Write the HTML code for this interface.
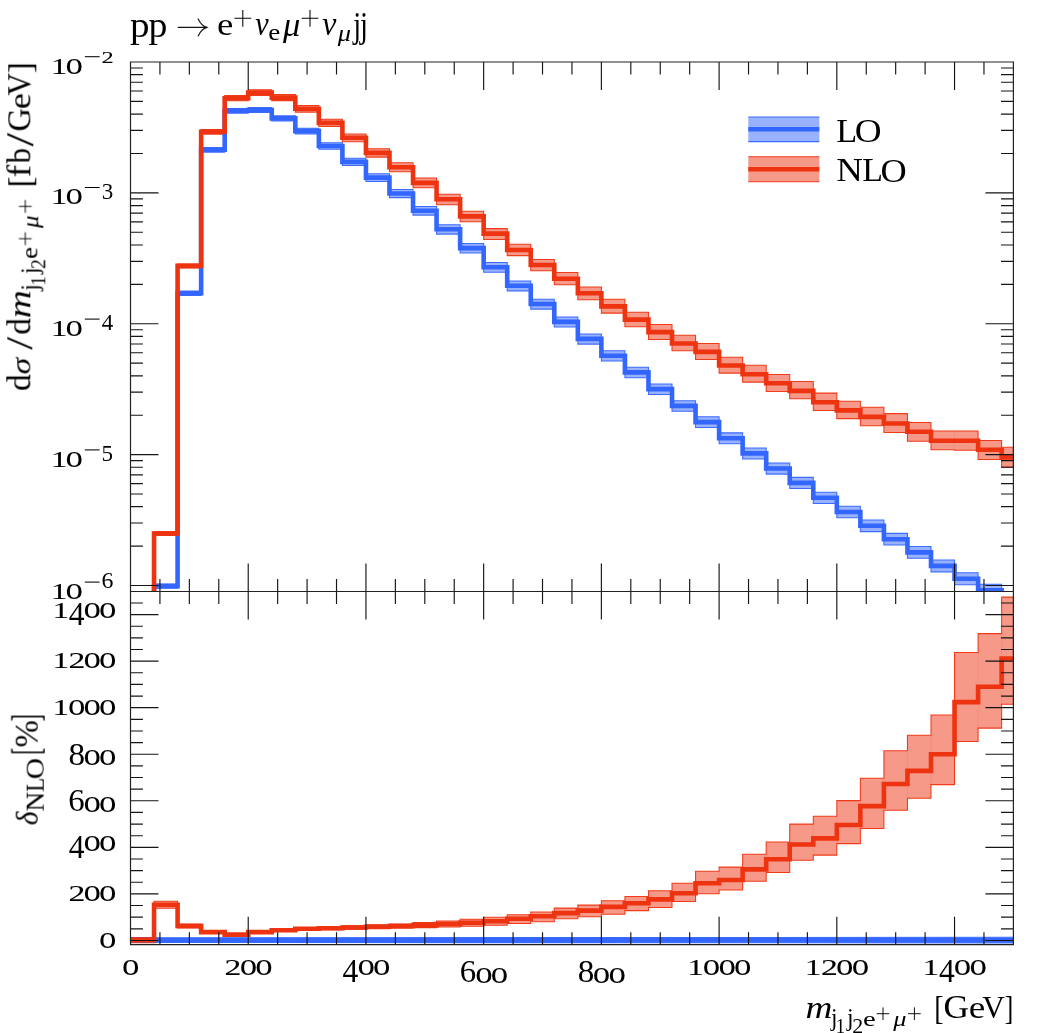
<!DOCTYPE html>
<html><head><meta charset="utf-8"><title>pp to e+ nu mu+ nu jj</title>
<style>html,body{margin:0;padding:0;background:#fff}svg{display:block}text{font-family:"Liberation Serif",serif;font-size:100px;fill:#000}</style></head><body>
<svg width="1046" height="1033" viewBox="0 0 1046 1033">
<rect width="1046" height="1033" fill="#fff"/>
<defs><clipPath id="cu"><rect x="130.5" y="62" width="882.9" height="529.5"/></clipPath>
<clipPath id="cl"><rect x="130.5" y="591.5" width="882.9" height="353.2"/></clipPath></defs>
<g clip-path="url(#cu)">
<path d="M154.04 584.1H177.59V291H201.13V147.5H224.68V108.4H248.22V107.5H271.76V115.8H295.31V128.2H318.85V142.7H342.4V158.3H365.94V173.7H389.48V189.4H413.03V206.5H436.57V224.7H460.12V243.53H483.66V262.56H507.2V281.09H530.75V299.22H554.29V317.05H577.84V333.98H601.38V350.81H624.92V367.34H648.47V383.97H672.01V400.7H695.56V416.83H719.1V432.86H742.64V447.99H766.19V463.02H789.73V477.35H813.28V492.18H836.82V506.31H860.36V520.04H883.91V533.37H907.45V546.5H931V559.93H954.54V572.66H978.08V584.19H1001.63V596.82H1013.4V609.1H1001.63V596.35H978.08V584.7H954.54V571.85H931V558.3H907.45V545.05H883.91V531.6H860.36V517.75H836.82V503.5H813.28V488.55H789.73V474.1H766.19V458.95H742.64V443.7H719.1V427.55H695.56V411.3H672.01V394.45H648.47V377.7H624.92V361.05H601.38V344.1H577.84V327.05H554.29V309.1H530.75V290.85H507.2V272.2H483.66V253.05H460.12V234.1H436.57V215.1H413.03V197.6H389.48V181.5H365.94V165.5H342.4V149.3H318.85V134H295.31V121H271.76V112.5H248.22V113.2H224.68V152.1H201.13V295.4H177.59V588.1H154.04Z" fill="#3366FF" stroke="#3366FF" fill-opacity="0.5" stroke-width="1.05" stroke-opacity="0.95" stroke-linejoin="miter"/>
<path d="M154.04 531.5H177.59V263.9H201.13V129.5H224.68V95.6H248.22V89.8H271.76V94.6H295.31V105.5H318.85V119.3H342.4V133.9H365.94V148.7H389.48V162.8H413.03V178H436.57V194.2H460.12V211.3H483.66V228.6H507.2V244.3H530.75V259.4H554.29V272.5H577.84V286.9H601.38V299.2H624.92V312.2H648.47V324.5H672.01V335.3H695.56V343.5H719.1V357.3H742.64V365.3H766.19V374.4H789.73V381.4H813.28V393.1H836.82V401.3H860.36V407.2H883.91V413.6H907.45V422.5H931V431H954.54V431H978.08V440.4H1001.63V447.3H1013.4V467.1H1001.63V459.5H978.08V450.2H954.54V449.8H931V441.3H907.45V432.4H883.91V425.7H860.36V418.6H836.82V410.4H813.28V398.8H789.73V391.4H766.19V382.1H742.64V373.1H719.1V359.5H695.56V350.8H672.01V339.4H648.47V326.7H624.92V313.1H601.38V299.8H577.84V284.7H554.29V270.7H530.75V255.6H507.2V239.5H483.66V221.7H460.12V204.7H436.57V187.8H413.03V171.8H389.48V157.1H365.94V141.7H342.4V126.5H318.85V112.1H295.31V100.6H271.76V95.4H248.22V100.8H224.68V134.1H201.13V267.9H177.59V535.5H154.04Z" fill="#EE3311" stroke="#EE3311" fill-opacity="0.5" stroke-width="1.05" stroke-opacity="0.95" stroke-linejoin="miter"/>
<path d="M648.47 324.5V326.7M672.01 335.3V339.4M695.56 343.5V350.8M719.1 357.3V359.5M742.64 365.3V373.1M766.19 374.4V382.1M789.73 381.4V391.4M813.28 393.1V398.8M836.82 401.3V410.4M860.36 407.2V418.6M883.91 413.6V425.7M907.45 422.5V432.4M931 431V441.3M954.54 431V449.8M978.08 440.4V450.2M1001.63 447.3V459.5" stroke="#EE3311" stroke-width="0.8" stroke-opacity="0.12" fill="none"/>
<path d="M248.22 108.4V112.5" stroke="#3366FF" stroke-width="0.8" stroke-opacity="0.12" fill="none"/>
<path d="M154.04 700 V586.1H177.59V293.2H201.13V149.8H224.68V110.8H248.22V110H271.76V118.4H295.31V131.1H318.85V146H342.4V161.9H365.94V177.6H389.48V193.5H413.03V210.8H436.57V229.2H460.12V248.1H483.66V267.2H507.2V285.8H530.75V304H554.29V321.9H577.84V338.9H601.38V355.8H624.92V372.4H648.47V389.1H672.01V405.9H695.56V422.1H719.1V438.2H742.64V453.4H766.19V468.5H789.73V482.9H813.28V497.8H836.82V512H860.36V525.8H883.91V539.2H907.45V552.4H931V565.9H954.54V578.7H978.08V590.3H1001.63V603H1013.4" fill="none" stroke="#3366FF" stroke-width="4.6" stroke-linejoin="miter"/>
<path d="M154.04 700 V533.5H177.59V265.9H201.13V131.8H224.68V98.2H248.22V92.6H271.76V97.6H295.31V108.8H318.85V122.9H342.4V137.8H365.94V152.9H389.48V167.3H413.03V182.9H436.57V199.3H460.12V216.4H483.66V233.6H507.2V250H530.75V265H554.29V278.8H577.84V293.3H601.38V306.4H624.92V319.6H648.47V332.1H672.01V343.5H695.56V351.9H719.1V365.5H742.64V374.3H766.19V383.3H789.73V390.9H813.28V402.2H836.82V410.4H860.36V416.9H883.91V423.5H907.45V431.8H931V440.8H954.54V440.8H978.08V449.8H1001.63V457.4H1013.4" fill="none" stroke="#EE3311" stroke-width="4.6" stroke-linejoin="miter"/>
</g>
<g clip-path="url(#cl)">
<path d="M125.5 937.9L1018.4 937.3V942.9L125.5 942.4Z" fill="#3366FF" stroke="#3366FF" fill-opacity="0.5" stroke-width="1.05" stroke-opacity="0.95" stroke-linejoin="miter"/>
<path d="M130.5 937.6H154.04V901.2H177.59V924H201.13V931.1H224.68V933.8H248.22V931.1H271.76V929H295.31V927.4H318.85V926.7H342.4V925.8H365.94V924.8H389.48V923.9H413.03V922.6H436.57V921H460.12V919.2H483.66V917.2H507.2V914.8H530.75V911.9H554.29V908.1H577.84V905.1H601.38V900.7H624.92V896.4H648.47V890.7H672.01V883.3H695.56V871.3H719.1V867.1H742.64V854.2H766.19V842H789.73V824.1H813.28V816.3H836.82V800.6H860.36V778.3H883.91V750.8H907.45V735.2H931V714.9H954.54V652.5H978.08V633.6H1001.63V597.1H1013.4V704.3H1001.63V728.1H978.08V741.5H954.54V784.6H931V798.3H907.45V810.2H883.91V828.4H860.36V843.6H836.82V855.1H813.28V860.3H789.73V872.4H766.19V881.2H742.64V890H719.1V893.7H695.56V901.4H672.01V907.4H648.47V910.6H624.92V914.3H601.38V916.8H577.84V918.8H554.29V921.8H530.75V923.5H507.2V925.2H483.66V926.2H460.12V927H436.57V927.6H413.03V928.1H389.48V928.6H365.94V929.2H342.4V929.7H318.85V930.2H295.31V931.4H271.76V933.1H248.22V935.4H224.68V933.1H201.13V928H177.59V908.3H154.04V942.6H130.5Z" fill="#EE3311" stroke="#EE3311" fill-opacity="0.5" stroke-width="1.05" stroke-opacity="0.95" stroke-linejoin="miter"/>
<path d="M295.31 929V930.2M318.85 927.4V929.7M342.4 926.7V929.2M365.94 925.8V928.6M389.48 924.8V928.1M413.03 923.9V927.6M436.57 922.6V927M460.12 921V926.2M483.66 919.2V925.2M507.2 917.2V923.5M530.75 914.8V921.8M554.29 911.9V918.8M577.84 908.1V916.8M601.38 905.1V914.3M624.92 900.7V910.6M648.47 896.4V907.4M672.01 890.7V901.4M695.56 883.3V893.7M719.1 871.3V890M742.64 867.1V881.2M766.19 854.2V872.4M789.73 842V860.3M813.28 824.1V855.1M836.82 816.3V843.6M860.36 800.6V828.4M883.91 778.3V810.2M907.45 750.8V798.3M931 735.2V784.6M954.54 714.9V741.5M978.08 652.5V728.1M1001.63 633.6V704.3" stroke="#EE3311" stroke-width="0.8" stroke-opacity="0.12" fill="none"/>
<path d="M130.5 940.1H1013.4" fill="none" stroke="#3366FF" stroke-width="4.6"/>
<path d="M130.5 940.1H154.04V904.8H177.59V926H201.13V932.1H224.68V934.6H248.22V932.1H271.76V930.2H295.31V928.8H318.85V928.2H342.4V927.5H365.94V926.7H389.48V926H413.03V925.1H436.57V924H460.12V922.7H483.66V921.2H507.2V918.8H530.75V916.3H554.29V913.1H577.84V910.6H601.38V906.9H624.92V903.2H648.47V899.4H672.01V893.2H695.56V883.3H719.1V880H742.64V869.4H766.19V859.3H789.73V844.5H813.28V838.4H836.82V825H860.36V806.1H883.91V784H907.45V770.9H931V754.3H954.54V702.1H978.08V686.8H1001.63V658.5H1013.4" fill="none" stroke="#EE3311" stroke-width="4.6" stroke-linejoin="miter"/>
</g>
<rect x="748.3" y="117" width="71" height="24.6" fill="#3366FF" fill-opacity="0.5"/>
<path d="M748.3 117H819.3M748.3 141.6H819.3" stroke="#3366FF" stroke-width="1.05" stroke-opacity="0.95" fill="none"/>
<path d="M748.3 129.3H819.3" stroke="#3366FF" stroke-width="4.6"/>
<rect x="748.3" y="156.8" width="71" height="24.9" fill="#EE3311" fill-opacity="0.5"/>
<path d="M748.3 156.8H819.3M748.3 181.7H819.3" stroke="#EE3311" stroke-width="1.05" stroke-opacity="0.95" fill="none"/>
<path d="M748.3 169.25H819.3" stroke="#EE3311" stroke-width="4.6"/>
<path d="M159.93 62v12.4M159.93 579.1v24.8M159.93 944.7v-12.4M189.36 62v12.4M189.36 579.1v24.8M189.36 944.7v-12.4M218.79 62v12.4M218.79 579.1v24.8M218.79 944.7v-12.4M248.22 62v28M248.22 563.5v56M248.22 944.7v-28M277.65 62v12.4M277.65 579.1v24.8M277.65 944.7v-12.4M307.08 62v12.4M307.08 579.1v24.8M307.08 944.7v-12.4M336.51 62v12.4M336.51 579.1v24.8M336.51 944.7v-12.4M365.94 62v28M365.94 563.5v56M365.94 944.7v-28M395.37 62v12.4M395.37 579.1v24.8M395.37 944.7v-12.4M424.8 62v12.4M424.8 579.1v24.8M424.8 944.7v-12.4M454.23 62v12.4M454.23 579.1v24.8M454.23 944.7v-12.4M483.66 62v28M483.66 563.5v56M483.66 944.7v-28M513.09 62v12.4M513.09 579.1v24.8M513.09 944.7v-12.4M542.52 62v12.4M542.52 579.1v24.8M542.52 944.7v-12.4M571.95 62v12.4M571.95 579.1v24.8M571.95 944.7v-12.4M601.38 62v28M601.38 563.5v56M601.38 944.7v-28M630.81 62v12.4M630.81 579.1v24.8M630.81 944.7v-12.4M660.24 62v12.4M660.24 579.1v24.8M660.24 944.7v-12.4M689.67 62v12.4M689.67 579.1v24.8M689.67 944.7v-12.4M719.1 62v28M719.1 563.5v56M719.1 944.7v-28M748.53 62v12.4M748.53 579.1v24.8M748.53 944.7v-12.4M777.96 62v12.4M777.96 579.1v24.8M777.96 944.7v-12.4M807.39 62v12.4M807.39 579.1v24.8M807.39 944.7v-12.4M836.82 62v28M836.82 563.5v56M836.82 944.7v-28M866.25 62v12.4M866.25 579.1v24.8M866.25 944.7v-12.4M895.68 62v12.4M895.68 579.1v24.8M895.68 944.7v-12.4M925.11 62v12.4M925.11 579.1v24.8M925.11 944.7v-12.4M954.54 62v28M954.54 563.5v56M954.54 944.7v-28M983.97 62v12.4M983.97 579.1v24.8M983.97 944.7v-12.4M130.5 585.48h28M1013.4 585.48h-28M130.5 546.08h12.4M1013.4 546.08h-12.4M130.5 523.04h12.4M1013.4 523.04h-12.4M130.5 506.69h12.4M1013.4 506.69h-12.4M130.5 494.01h12.4M1013.4 494.01h-12.4M130.5 483.64h12.4M1013.4 483.64h-12.4M130.5 474.88h12.4M1013.4 474.88h-12.4M130.5 467.29h12.4M1013.4 467.29h-12.4M130.5 460.6h12.4M1013.4 460.6h-12.4M130.5 454.61h28M1013.4 454.61h-28M130.5 415.21h12.4M1013.4 415.21h-12.4M130.5 392.17h12.4M1013.4 392.17h-12.4M130.5 375.82h12.4M1013.4 375.82h-12.4M130.5 363.14h12.4M1013.4 363.14h-12.4M130.5 352.77h12.4M1013.4 352.77h-12.4M130.5 344.01h12.4M1013.4 344.01h-12.4M130.5 336.42h12.4M1013.4 336.42h-12.4M130.5 329.73h12.4M1013.4 329.73h-12.4M130.5 323.74h28M1013.4 323.74h-28M130.5 284.34h12.4M1013.4 284.34h-12.4M130.5 261.3h12.4M1013.4 261.3h-12.4M130.5 244.95h12.4M1013.4 244.95h-12.4M130.5 232.27h12.4M1013.4 232.27h-12.4M130.5 221.9h12.4M1013.4 221.9h-12.4M130.5 213.14h12.4M1013.4 213.14h-12.4M130.5 205.55h12.4M1013.4 205.55h-12.4M130.5 198.86h12.4M1013.4 198.86h-12.4M130.5 192.87h28M1013.4 192.87h-28M130.5 153.47h12.4M1013.4 153.47h-12.4M130.5 130.43h12.4M1013.4 130.43h-12.4M130.5 114.08h12.4M1013.4 114.08h-12.4M130.5 101.4h12.4M1013.4 101.4h-12.4M130.5 91.03h12.4M1013.4 91.03h-12.4M130.5 82.27h12.4M1013.4 82.27h-12.4M130.5 74.68h12.4M1013.4 74.68h-12.4M130.5 67.99h12.4M1013.4 67.99h-12.4M130.5 940.45h28M1013.4 940.45h-28M130.5 928.81h12.4M1013.4 928.81h-12.4M130.5 917.17h12.4M1013.4 917.17h-12.4M130.5 905.54h12.4M1013.4 905.54h-12.4M130.5 893.9h28M1013.4 893.9h-28M130.5 882.26h12.4M1013.4 882.26h-12.4M130.5 870.62h12.4M1013.4 870.62h-12.4M130.5 858.98h12.4M1013.4 858.98h-12.4M130.5 847.35h28M1013.4 847.35h-28M130.5 835.71h12.4M1013.4 835.71h-12.4M130.5 824.07h12.4M1013.4 824.07h-12.4M130.5 812.43h12.4M1013.4 812.43h-12.4M130.5 800.79h28M1013.4 800.79h-28M130.5 789.16h12.4M1013.4 789.16h-12.4M130.5 777.52h12.4M1013.4 777.52h-12.4M130.5 765.88h12.4M1013.4 765.88h-12.4M130.5 754.24h28M1013.4 754.24h-28M130.5 742.6h12.4M1013.4 742.6h-12.4M130.5 730.97h12.4M1013.4 730.97h-12.4M130.5 719.33h12.4M1013.4 719.33h-12.4M130.5 707.69h28M1013.4 707.69h-28M130.5 696.05h12.4M1013.4 696.05h-12.4M130.5 684.41h12.4M1013.4 684.41h-12.4M130.5 672.78h12.4M1013.4 672.78h-12.4M130.5 661.14h28M1013.4 661.14h-28M130.5 649.5h12.4M1013.4 649.5h-12.4M130.5 637.86h12.4M1013.4 637.86h-12.4M130.5 626.22h12.4M1013.4 626.22h-12.4M130.5 614.59h28M1013.4 614.59h-28M130.5 602.95h12.4M1013.4 602.95h-12.4" stroke="#151515" stroke-width="1.15" fill="none"/>
<path d="M130.5 62H1013.4V944.7H130.5ZM130.5 591.5H1013.4" stroke="#222" stroke-width="1.2" fill="none"/>
<g opacity="0.999">
<text transform="matrix(0.3489 0 0 0.3101 121.98 975.31)">o</text>
<text transform="matrix(0.3370 0 0 0.2205 224.58 975.3)" stroke="#000" stroke-width="0.45">2</text>
<text transform="matrix(0.3489 0 0 0.3101 239.7 975.31)">o</text>
<text transform="matrix(0.3489 0 0 0.3101 255.3 975.31)">o</text>
<text transform="matrix(0.3161 0 0 0.3299 342.57 982.42)">4</text>
<text transform="matrix(0.3489 0 0 0.3101 357.42 975.31)">o</text>
<text transform="matrix(0.3489 0 0 0.3101 373.02 975.31)">o</text>
<text transform="matrix(0.3286 0 0 0.3251 459.83 982.22)">6</text>
<text transform="matrix(0.3489 0 0 0.3101 475.14 982.55)">o</text>
<text transform="matrix(0.3489 0 0 0.3101 490.74 982.55)">o</text>
<text transform="matrix(0.3313 0 0 0.3236 577.7 982.22)">8</text>
<text transform="matrix(0.3489 0 0 0.3101 592.86 982.55)">o</text>
<text transform="matrix(0.3489 0 0 0.3101 608.46 982.55)">o</text>
<text transform="matrix(0.3323 0 0 0.2212 687.13 975.3)" stroke="#000" stroke-width="0.45">1</text>
<text transform="matrix(0.3489 0 0 0.3101 702.78 975.31)">o</text>
<text transform="matrix(0.3489 0 0 0.3101 718.38 975.31)">o</text>
<text transform="matrix(0.3489 0 0 0.3101 733.98 975.31)">o</text>
<text transform="matrix(0.3323 0 0 0.2212 804.85 975.3)" stroke="#000" stroke-width="0.45">1</text>
<text transform="matrix(0.3370 0 0 0.2205 820.98 975.3)" stroke="#000" stroke-width="0.45">2</text>
<text transform="matrix(0.3489 0 0 0.3101 836.1 975.31)">o</text>
<text transform="matrix(0.3489 0 0 0.3101 851.7 975.31)">o</text>
<text transform="matrix(0.3323 0 0 0.2212 922.57 975.3)" stroke="#000" stroke-width="0.45">1</text>
<text transform="matrix(0.3161 0 0 0.3299 938.97 982.42)">4</text>
<text transform="matrix(0.3489 0 0 0.3101 953.82 975.31)">o</text>
<text transform="matrix(0.3489 0 0 0.3101 969.42 975.31)">o</text>
<text transform="matrix(0.3489 0 0 0.3101 99.1 947.76)">o</text>
<text transform="matrix(0.3370 0 0 0.2205 68.49 901.2)" stroke="#000" stroke-width="0.45">2</text>
<text transform="matrix(0.3489 0 0 0.3101 83.55 901.21)">o</text>
<text transform="matrix(0.3489 0 0 0.3101 99.1 901.21)">o</text>
<text transform="matrix(0.3161 0 0 0.3299 68.76 858.2)">4</text>
<text transform="matrix(0.3489 0 0 0.3101 83.55 851.1)">o</text>
<text transform="matrix(0.3489 0 0 0.3101 99.1 851.1)">o</text>
<text transform="matrix(0.3286 0 0 0.3251 68.29 811.4)">6</text>
<text transform="matrix(0.3489 0 0 0.3101 83.55 811.72)">o</text>
<text transform="matrix(0.3489 0 0 0.3101 99.1 811.72)">o</text>
<text transform="matrix(0.3313 0 0 0.3236 68.44 764.85)">8</text>
<text transform="matrix(0.3489 0 0 0.3101 83.55 765.17)">o</text>
<text transform="matrix(0.3489 0 0 0.3101 99.1 765.17)">o</text>
<text transform="matrix(0.3323 0 0 0.2212 52.4 714.99)" stroke="#000" stroke-width="0.45">1</text>
<text transform="matrix(0.3489 0 0 0.3101 68 715)">o</text>
<text transform="matrix(0.3489 0 0 0.3101 83.55 715)">o</text>
<text transform="matrix(0.3489 0 0 0.3101 99.1 715)">o</text>
<text transform="matrix(0.3323 0 0 0.2212 52.4 668.44)" stroke="#000" stroke-width="0.45">1</text>
<text transform="matrix(0.3370 0 0 0.2205 68.49 668.44)" stroke="#000" stroke-width="0.45">2</text>
<text transform="matrix(0.3489 0 0 0.3101 83.55 668.45)">o</text>
<text transform="matrix(0.3489 0 0 0.3101 99.1 668.45)">o</text>
<text transform="matrix(0.3323 0 0 0.2212 52.4 618.33)" stroke="#000" stroke-width="0.45">1</text>
<text transform="matrix(0.3161 0 0 0.3299 68.76 625.44)">4</text>
<text transform="matrix(0.3489 0 0 0.3101 83.55 618.34)">o</text>
<text transform="matrix(0.3489 0 0 0.3101 99.1 618.34)">o</text>
<text transform="matrix(0.3323 0 0 0.2212 50.73 73.5)" stroke="#000" stroke-width="0.45">1</text>
<text transform="matrix(0.3489 0 0 0.3101 65.38 73.51)">o</text>
<path d="M84.8 56.7H99.6" stroke="#000" stroke-width="1.05" fill="none"/>
<text transform="matrix(0.2445 0 0 0.1600 101.62 62.9)" stroke="#000" stroke-width="0.45">2</text>
<text transform="matrix(0.3323 0 0 0.2212 50.73 204.3)" stroke="#000" stroke-width="0.45">1</text>
<text transform="matrix(0.3489 0 0 0.3101 65.38 204.31)">o</text>
<path d="M84.8 187.5H99.6" stroke="#000" stroke-width="1.05" fill="none"/>
<text transform="matrix(0.2302 0 0 0.2345 101.74 198.63)">3</text>
<text transform="matrix(0.3323 0 0 0.2212 50.73 335.9)" stroke="#000" stroke-width="0.45">1</text>
<text transform="matrix(0.3489 0 0 0.3101 65.38 335.91)">o</text>
<path d="M84.8 319.1H99.6" stroke="#000" stroke-width="1.05" fill="none"/>
<text transform="matrix(0.2294 0 0 0.2394 101.82 330.46)">4</text>
<text transform="matrix(0.3323 0 0 0.2212 50.73 466.7)" stroke="#000" stroke-width="0.45">1</text>
<text transform="matrix(0.3489 0 0 0.3101 65.38 466.71)">o</text>
<path d="M84.8 449.9H99.6" stroke="#000" stroke-width="1.05" fill="none"/>
<text transform="matrix(0.2304 0 0 0.2371 101.62 461.03)">5</text>
<text transform="matrix(0.3323 0 0 0.2212 50.73 598.9)" stroke="#000" stroke-width="0.45">1</text>
<text transform="matrix(0.3489 0 0 0.3101 65.38 598.91)">o</text>
<path d="M84.8 582.1H99.6" stroke="#000" stroke-width="1.05" fill="none"/>
<text transform="matrix(0.2385 0 0 0.2359 101.48 588.07)">6</text>
<text transform="matrix(0.3912 0 0 0.3538 129.97 36.97)">p</text>
<text transform="matrix(0.3777 0 0 0.3538 148.59 36.97)">p</text>
<path d="M178.2 27.4H206.2M198.2 18.9C200.1 23.2 202.8 26 206.9 27.4C202.8 28.8 200.1 31.6 198.2 35.9" stroke="#151515" stroke-width="1.15" fill="none" stroke-linecap="round"/>
<text transform="matrix(0.3675 0 0 0.3223 217.06 35.49)">e</text>
<path d="M234.45 18.3h16.7M242.8 9.95v16.7" stroke="#000" stroke-width="1.05" fill="none"/>
<text transform="matrix(0.3022 0 0 0.3307 255.19 35.48)" font-style="italic">ν</text>
<text transform="matrix(0.2702 0 0 0.2204 268.14 40.28)">e</text>
<text transform="matrix(0.3449 0 0 0.3448 282.93 36.13)" font-style="italic">μ</text>
<path d="M301.65 18.3h16.7M310 9.95v16.7" stroke="#000" stroke-width="1.05" fill="none"/>
<text transform="matrix(0.3185 0 0 0.3307 322.26 35.48)" font-style="italic">ν</text>
<text transform="matrix(0.2640 0 0 0.2393 337.63 40.88)" font-style="italic">μ</text>
<text transform="matrix(0.2809 0 0 0.3486 353.31 37.08)">j</text>
<text transform="matrix(0.2855 0 0 0.3486 360.12 37.08)">j</text>
<text transform="matrix(0.3429 0 0 0.3299 836.31 141.5)">L</text>
<text transform="matrix(0.3718 0 0 0.3393 854.68 141.77)">O</text>
<text transform="matrix(0.3684 0 0 0.3345 836.14 181.2)">N</text>
<text transform="matrix(0.3391 0 0 0.3299 862.32 180.9)">L</text>
<text transform="matrix(0.3624 0 0 0.3438 880.51 181.56)">O</text>
<text transform="matrix(0.3726 0 0 0.3226 805.45 1017.6)" font-style="italic">m</text>
<text transform="matrix(0.2311 0 0 0.2606 831.07 1026.05)">j</text>
<text transform="matrix(0.1875 0 0 0.2015 835.65 1033.3)">1</text>
<text transform="matrix(0.2356 0 0 0.2606 846.98 1026.05)">j</text>
<text transform="matrix(0.2195 0 0 0.2039 852.24 1033.3)">2</text>
<text transform="matrix(0.2864 0 0 0.2121 862.88 1025.79)">e</text>
<path d="M876.7 1013.7h12.6M883 1007.4v12.6" stroke="#000" stroke-width="0.95" fill="none"/>
<text transform="matrix(0.2640 0 0 0.2170 893.23 1025.76)" font-style="italic">μ</text>
<path d="M908.1 1013.7h12.6M914.4 1007.4v12.6" stroke="#000" stroke-width="0.95" fill="none"/>
<text transform="matrix(0.2785 0 0 0.3383 934.33 1018.67)">[</text>
<text transform="matrix(0.3524 0 0 0.3319 943.45 1017.68)">G</text>
<text transform="matrix(0.3729 0 0 0.3181 968.64 1017.59)">e</text>
<text transform="matrix(0.3116 0 0 0.3254 982.35 1017.51)">V</text>
<text transform="matrix(0.2560 0 0 0.3383 1004.78 1018.67)">]</text>
<g transform="translate(30.3 389.7) rotate(-90)">
<text transform="matrix(0.3343 0 0 0.3300 -1.21 0)">d</text>
<text transform="matrix(0.3373 0 0 0.2779 15.2 0.03)" font-style="italic">σ</text>
<text transform="matrix(0.4607 0 0 0.3827 40.1 2.13)">/</text>
<text transform="matrix(0.3321 0 0 0.3300 55.1 0)">d</text>
<text transform="matrix(0.3882 0 0 0.3226 71.6 0)" font-style="italic">m</text>
<text transform="matrix(0.2356 0 0 0.2617 98.98 7.93)">j</text>
<text transform="matrix(0.1932 0 0 0.2015 104 14.8)">1</text>
<text transform="matrix(0.2356 0 0 0.2617 115.78 7.93)">j</text>
<text transform="matrix(0.1971 0 0 0.2009 120.73 14.8)">2</text>
<text transform="matrix(0.2702 0 0 0.2204 130.74 7.38)">e</text>
<path d="M144.6 -5h12.8M151 -11.4v12.8" stroke="#000" stroke-width="0.95" fill="none"/>
<text transform="matrix(0.2491 0 0 0.2318 161.82 7.64)" font-style="italic">μ</text>
<path d="M176.9 -5h12.8M183.3 -11.4v12.8" stroke="#000" stroke-width="0.95" fill="none"/>
<text transform="matrix(0.3324 0 0 0.3468 202.23 0.56)">[</text>
<text transform="matrix(0.3805 0 0 0.3300 212.33 0)">f</text>
<text transform="matrix(0.3096 0 0 0.3300 226.3 0)">b</text>
<text transform="matrix(0.4859 0 0 0.3947 243.3 2.51)">/</text>
<text transform="matrix(0.3231 0 0 0.3300 258.17 0)">G</text>
<text transform="matrix(0.3647 0 0 0.3223 280.48 -0.01)">e</text>
<text transform="matrix(0.3101 0 0 0.3300 294.35 0)">V</text>
<text transform="matrix(0.3324 0 0 0.3468 316.6 0.56)">]</text>
</g>
<g transform="translate(37.7 824.5) rotate(-90)">
<text transform="matrix(0.2942 0 0 0.3133 -0.86 -0.11)" font-style="italic">δ</text>
<text transform="matrix(0.2730 0 0 0.2596 13.01 6.3)">N</text>
<text transform="matrix(0.2299 0 0 0.2596 32.64 6.3)">L</text>
<text transform="matrix(0.2952 0 0 0.2620 45.29 6.34)">O</text>
<text transform="matrix(0.2111 0 0 0.3975 69.83 2.48)">[</text>
<text transform="matrix(0.3283 0 0 0.3288 76.88 -0.13)">%</text>
<text transform="matrix(0.2246 0 0 0.3975 102.99 2.48)">]</text>
</g>
</g>
</svg></body></html>
